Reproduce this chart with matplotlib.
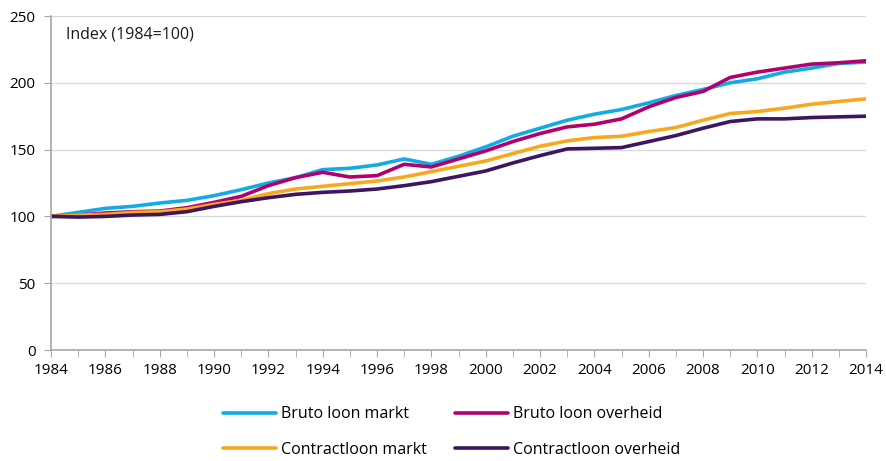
import matplotlib
matplotlib.use("Agg")
import matplotlib.pyplot as plt
from matplotlib.ticker import MultipleLocator

plt.rcParams['font.family'] = ['Open Sans', 'DejaVu Sans']

years = list(range(1984, 2015))
bruto_markt = [100, 103, 106, 107.5, 110, 112, 115.5, 120, 125, 129, 135, 136, 138.5, 143, 139,
               145, 152, 160, 166, 172, 176.5, 180, 185, 190.5, 195, 200, 203, 208, 211, 214.5, 215.5]
bruto_overheid = [100, 101, 102.5, 103.5, 104, 106.5, 110.5, 115, 123, 129, 133, 129.5, 130.5, 139, 137,
                  143, 149, 156, 162, 167, 169, 173, 182, 189, 193.5, 204, 208, 211, 214, 215, 216.5]
contract_markt = [100, 101, 101.5, 103, 103.5, 105.5, 109, 112, 117, 120.5, 122.5, 124.5, 126.5, 129.5, 133.5,
                  137.5, 141.5, 147, 152.5, 156.5, 159, 160, 163.5, 166.5, 172, 177, 178.5, 181, 184, 186, 188]
contract_overheid = [100, 99.5, 100, 101, 101.5, 103.5, 107.5, 111, 114, 116.5, 118, 119, 120.5, 123, 126,
                     130, 134, 140, 145.5, 150.5, 151, 151.5, 156, 160.5, 166, 171, 173, 173, 174, 174.5, 175]

series = [
    ("Bruto loon markt", bruto_markt, "#14aae4"),
    ("Bruto loon overheid", bruto_overheid, "#b2006e"),
    ("Contractloon markt", contract_markt, "#f8a81e"),
    ("Contractloon overheid", contract_overheid, "#3d1560"),
]

fig = plt.figure(figsize=(8.87, 4.61), dpi=100)
ax = fig.add_axes([51/887, 1-350/461, (866-51)/887, (350-16)/461])

handles = []
for label, vals, color in series:
    h, = ax.plot(years, vals, color=color, lw=2.6, label=label, solid_capstyle='round')
    handles.append(h)

ax.set_xlim(1984, 2014)
ax.set_ylim(0, 250)
ax.xaxis.set_major_locator(MultipleLocator(2))
ax.xaxis.set_minor_locator(MultipleLocator(1))
ax.yaxis.set_major_locator(MultipleLocator(50))
ax.grid(axis='y', color='#d9d9d9', lw=1)
ax.set_axisbelow(True)
for s in ['top', 'right']:
    ax.spines[s].set_visible(False)
for s in ['left', 'bottom']:
    ax.spines[s].set_color('#a6a6a6')
    ax.spines[s].set_linewidth(1.2)
ax.tick_params(axis='x', which='both', direction='out', length=5, color='#a6a6a6', labelsize=11, pad=4)
ax.tick_params(axis='y', which='major', direction='out', length=5, color='#a6a6a6', labelsize=11, pad=6)
ax.tick_params(axis='x', which='minor', length=5)
ax.text(0.018, 0.97, "Index (1984=100)", transform=ax.transAxes, ha='left', va='top', fontsize=11.5, color='#1a1a1a')

# row-wise legend order: reorder for matplotlib's column-wise filling
order = [0, 2, 1, 3]
fig.legend([handles[i] for i in order], [series[i][0] for i in order],
           loc='center', bbox_to_anchor=(0.5 + 8/887, 1-432/461), ncol=2, frameon=False, fontsize=11.5,
           handlelength=3.3, handletextpad=0.3, columnspacing=1.8, labelspacing=1.2,
           borderpad=0.2)

fig.savefig("out.png", dpi=100)
